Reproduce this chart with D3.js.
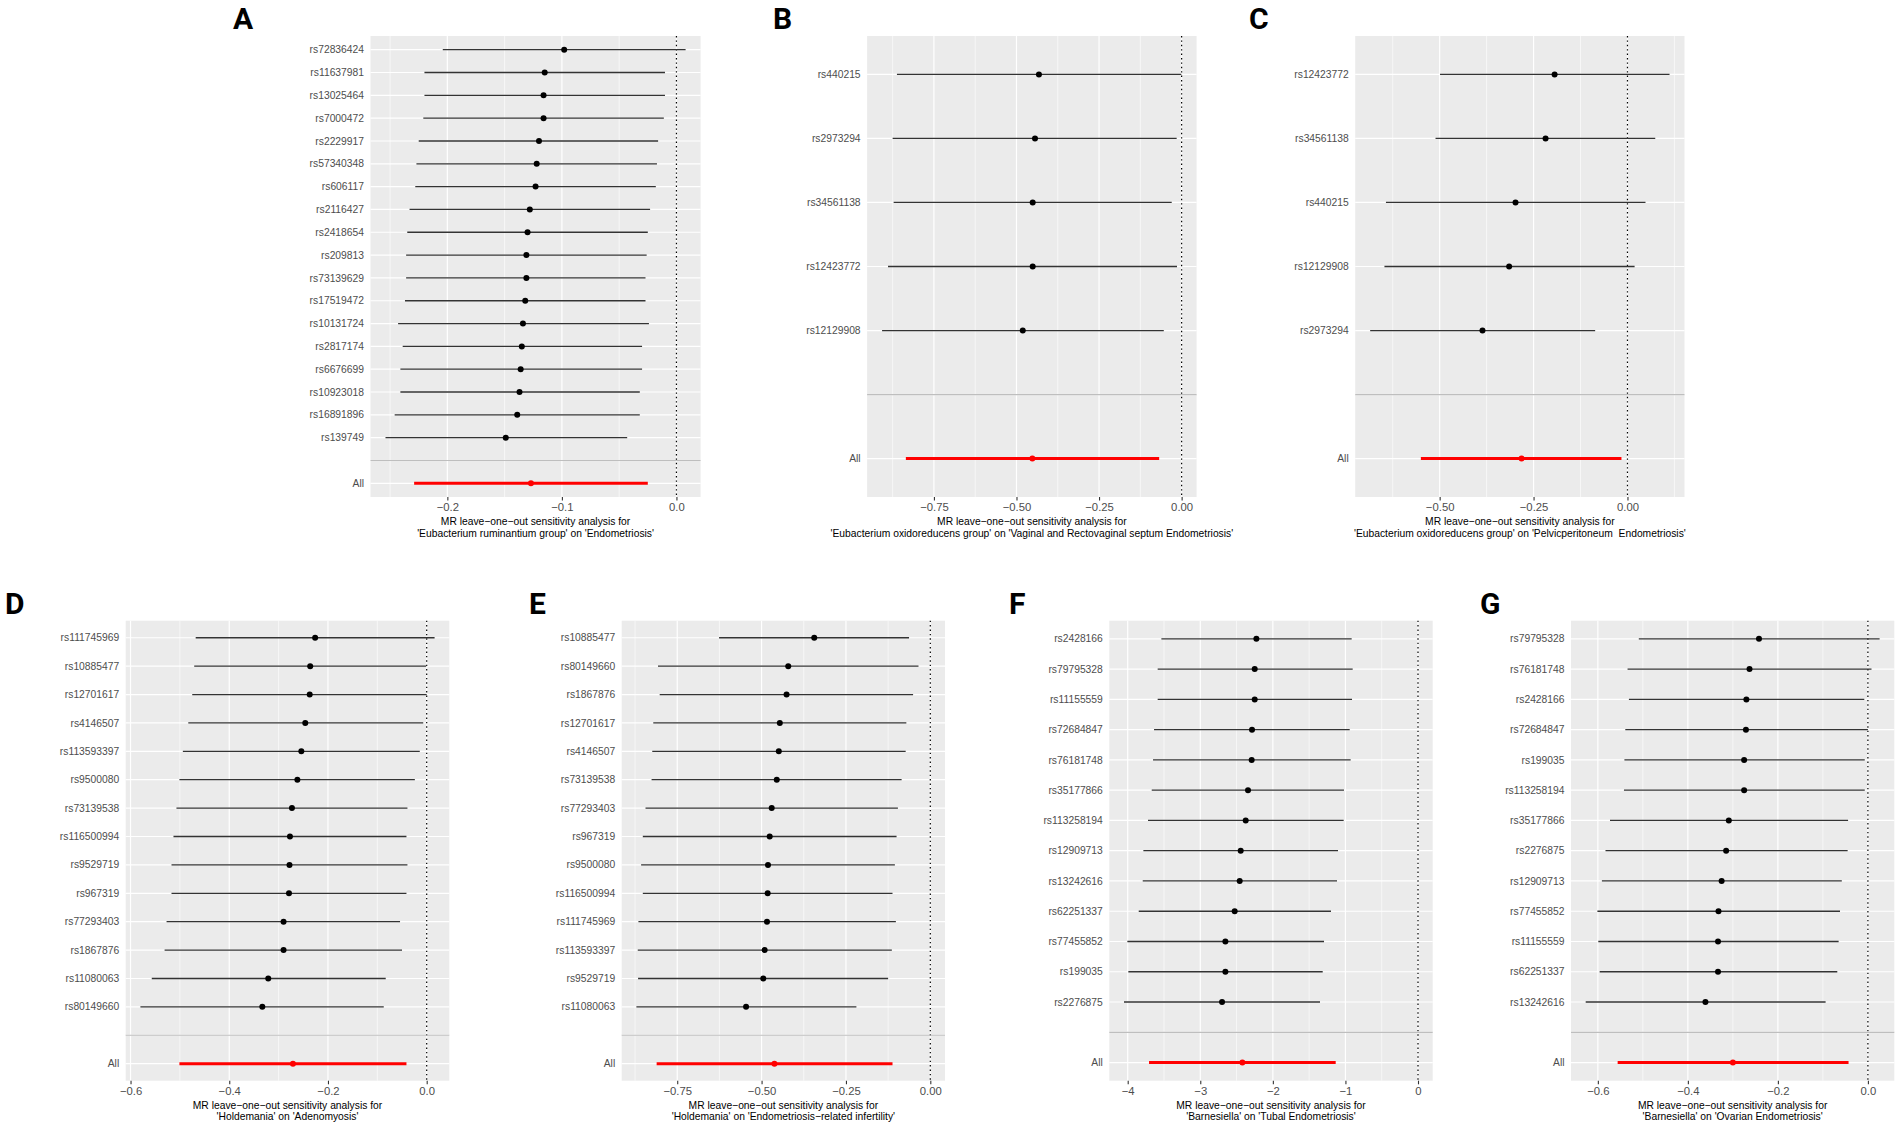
<!DOCTYPE html>
<html>
<head>
<meta charset="utf-8">
<script src="https://cdn.jsdelivr.net/npm/d3@7"></script>
<style>
  body { margin: 0; background: #fff; }
  svg { display: block; }
  text { white-space: pre; }
</style>
</head>
<body>
<svg width="1902" height="1129"></svg>
<script>
// ---- data (leave-one-out estimates, top row to bottom row) ----

// A
const snpsA = ["rs72836424","rs11637981","rs13025464","rs7000472","rs2229917","rs57340348","rs606117","rs2116427","rs2418654","rs209813","rs73139629","rs17519472","rs10131724","rs2817174","rs6676699","rs10923018","rs16891896","rs139749"]
const bA  = [-0.098,-0.115,-0.116,-0.116,-0.120,-0.122,-0.123,-0.128,-0.130,-0.131,-0.131,-0.132,-0.134,-0.135,-0.136,-0.137,-0.139,-0.149]
const loA = [-0.204,-0.220,-0.220,-0.221,-0.225,-0.227,-0.228,-0.233,-0.235,-0.236,-0.236,-0.237,-0.243,-0.239,-0.241,-0.241,-0.246,-0.254]
const upA = [0.008,-0.010,-0.010,-0.011,-0.016,-0.017,-0.018,-0.023,-0.025,-0.026,-0.027,-0.027,-0.024,-0.030,-0.030,-0.032,-0.032,-0.043]
const allA = [-0.127, -0.229, -0.025]
const ticksA = [-0.2, -0.1, 0]
const titleA = ["MR leave\u2212one\u2212out sensitivity analysis for", "'Eubacterium ruminantium group' on 'Endometriosis'"]

// B
const snpsB = ["rs440215","rs2973294","rs34561138","rs12423772","rs12129908"]
const bB  = [-0.432,-0.444,-0.451,-0.451,-0.481]
const loB = [-0.862,-0.875,-0.872,-0.889,-0.907]
const upB = [-0.001,-0.015,-0.030,-0.014,-0.054]
const allB = [-0.452, -0.835, -0.068]
const ticksB = [-0.75, -0.5, -0.25, 0]
const titleB = ["MR leave\u2212one\u2212out sensitivity analysis for", "'Eubacterium oxidoreducens group' on 'Vaginal and Rectovaginal septum Endometriosis'"]

// C
const snpsC = ["rs12423772","rs34561138","rs440215","rs12129908","rs2973294"]
const bC  = [-0.194,-0.218,-0.298,-0.315,-0.386]
const loC = [-0.499,-0.511,-0.643,-0.647,-0.685]
const upC = [0.112,0.074,0.048,0.019,-0.086]
const allC = [-0.282, -0.550, -0.016]
const ticksC = [-0.5, -0.25, 0]
const titleC = ["MR leave\u2212one\u2212out sensitivity analysis for", "'Eubacterium oxidoreducens group' on 'Pelvicperitoneum  Endometriosis'"]

// D
const snpsD = ["rs111745969","rs10885477","rs12701617","rs4146507","rs113593397","rs9500080","rs73139538","rs116500994","rs9529719","rs967319","rs77293403","rs1867876","rs11080063","rs80149660"]
const bD  = [-0.226,-0.236,-0.237,-0.246,-0.254,-0.262,-0.273,-0.277,-0.278,-0.279,-0.290,-0.290,-0.321,-0.333]
const loD = [-0.468,-0.471,-0.475,-0.483,-0.494,-0.501,-0.507,-0.513,-0.517,-0.517,-0.527,-0.531,-0.557,-0.580]
const upD = [0.016,-0.001,0.000,-0.007,-0.014,-0.024,-0.039,-0.041,-0.039,-0.041,-0.054,-0.050,-0.083,-0.087]
const allD = [-0.271, -0.501, -0.041]
const ticksD = [-0.6, -0.4, -0.2, 0]
const titleD = ["MR leave\u2212one\u2212out sensitivity analysis for", "'Holdemania' on 'Adenomyosis'"]

// E
const snpsE = ["rs10885477","rs80149660","rs1867876","rs12701617","rs4146507","rs73139538","rs77293403","rs967319","rs9500080","rs116500994","rs111745969","rs113593397","rs9529719","rs11080063"]
const bE  = [-0.344,-0.421,-0.426,-0.446,-0.449,-0.455,-0.470,-0.476,-0.481,-0.482,-0.484,-0.491,-0.495,-0.546]
const loE = [-0.626,-0.807,-0.802,-0.821,-0.824,-0.826,-0.844,-0.852,-0.857,-0.852,-0.865,-0.867,-0.866,-0.871]
const upE = [-0.063,-0.035,-0.051,-0.071,-0.073,-0.085,-0.096,-0.100,-0.105,-0.112,-0.102,-0.114,-0.125,-0.219]
const allE = [-0.462, -0.811, -0.112]
const ticksE = [-0.75, -0.5, -0.25, 0]
const titleE = ["MR leave\u2212one\u2212out sensitivity analysis for", "'Holdemania' on 'Endometriosis\u2212related infertility'"]

// F
const snpsF = ["rs2428166","rs79795328","rs11155559","rs72684847","rs76181748","rs35177866","rs113258194","rs12909713","rs13242616","rs62251337","rs77455852","rs199035","rs2276875"]
const bF  = [-2.227,-2.250,-2.250,-2.287,-2.292,-2.342,-2.374,-2.443,-2.457,-2.526,-2.654,-2.654,-2.700]
const loF = [-3.536,-3.587,-3.587,-3.637,-3.651,-3.669,-3.720,-3.784,-3.793,-3.848,-4.005,-3.991,-4.051]
const upF = [-0.914,-0.900,-0.909,-0.941,-0.928,-1.020,-1.024,-1.102,-1.116,-1.199,-1.295,-1.313,-1.350]
const allF = [-2.420, -3.706, -1.134]
const ticksF = [-4, -3, -2, -1, 0]
const titleF = ["MR leave\u2212one\u2212out sensitivity analysis for", "'Barnesiella' on 'Tubal Endometriosis'"]

// G
const snpsG = ["rs79795328","rs76181748","rs2428166","rs72684847","rs199035","rs113258194","rs35177866","rs2276875","rs12909713","rs77455852","rs11155559","rs62251337","rs13242616"]
const bG  = [-0.242,-0.263,-0.270,-0.271,-0.275,-0.275,-0.309,-0.315,-0.325,-0.332,-0.333,-0.333,-0.361]
const loG = [-0.509,-0.534,-0.531,-0.539,-0.541,-0.542,-0.573,-0.583,-0.591,-0.601,-0.599,-0.596,-0.627]
const upG = [0.026,0.008,-0.008,0.000,-0.007,-0.007,-0.044,-0.045,-0.058,-0.062,-0.065,-0.068,-0.094]
const allG = [-0.300, -0.556, -0.043]
const ticksG = [-0.6, -0.4, -0.2, 0]
const titleG = ["MR leave\u2212one\u2212out sensitivity analysis for", "'Barnesiella' on 'Ovarian Endometriosis'"]

// ---- layout (pixel boxes of each panel and its letter) ----
const boxes = {
  A: { x0: 370.5, x1: 700.6, y0: 36, y1: 497, lx: 233, ly: 29 },
  B: { x0: 867.1, x1: 1196.6, y0: 36, y1: 497, lx: 773, ly: 29 },
  C: { x0: 1355.2, x1: 1684.5, y0: 36, y1: 497, lx: 1249, ly: 29 },
  D: { x0: 125.7, x1: 449.3, y0: 620.7, y1: 1080.7, lx: 5, ly: 614 },
  E: { x0: 621.7, x1: 945, y0: 620.7, y1: 1080.7, lx: 529, ly: 614 },
  F: { x0: 1109.3, x1: 1432.7, y0: 620.7, y1: 1080.7, lx: 1009, ly: 614 },
  G: { x0: 1571, x1: 1894.3, y0: 620.7, y1: 1080.7, lx: 1480, ly: 614 }
}

const panels = [
  { key: "A", snps: snpsA, b: bA, lo: loA, up: upA, all: allA, ticks: ticksA, fmt: ".1f", title: titleA },
  { key: "B", snps: snpsB, b: bB, lo: loB, up: upB, all: allB, ticks: ticksB, fmt: ".2f", title: titleB },
  { key: "C", snps: snpsC, b: bC, lo: loC, up: upC, all: allC, ticks: ticksC, fmt: ".2f", title: titleC },
  { key: "D", snps: snpsD, b: bD, lo: loD, up: upD, all: allD, ticks: ticksD, fmt: ".1f", title: titleD },
  { key: "E", snps: snpsE, b: bE, lo: loE, up: upE, all: allE, ticks: ticksE, fmt: ".2f", title: titleE },
  { key: "F", snps: snpsF, b: bF, lo: loF, up: upF, all: allF, ticks: ticksF, fmt: "d", title: titleF },
  { key: "G", snps: snpsG, b: bG, lo: loG, up: upG, all: allG, ticks: ticksG, fmt: ".1f", title: titleG }
]

const svg = d3.select("svg")
const FONT = "'Liberation Sans', Arial, sans-serif"

const render = p => {
  const box = boxes[p.key]
  const w = box.x1 - box.x0
  const h = box.y1 - box.y0

  const rows = p.snps.map((s, i) => ({ snp: s, b: p.b[i], lo: p.lo[i], up: p.up[i], tot: false }))
  rows.push({ snp: "All", b: p.all[0], lo: p.all[1], up: p.all[2], tot: true })

  // ggplot-like continuous limits: data + 0 line, expanded 5%
  const lo = d3.min([0, ...p.lo, p.all[1]])
  const hi = d3.max([0, ...p.up, p.all[2]])
  const pad = (hi - lo) * 0.05

  const x = d3.scaleLinear().domain([lo - pad, hi + pad]).range([0, w])
  const y = d3.scalePoint().domain([...p.snps, "", "All"]).range([0, h]).padding(0.6)

  const g = svg.append("g").attr("transform", "translate(" + box.x0 + "," + box.y0 + ")")

  g.append("rect").attr("width", w).attr("height", h).attr("fill", "#EBEBEB")

  // minor grid
  const step = p.ticks[1] - p.ticks[0]
  const minor = []
  for (let v = p.ticks[0] - step / 2; v <= hi + pad + 1e-9; v += step) {
    if (v >= lo - pad) minor.push(v)
  }
  g.selectAll(".minor").data(minor).join("line")
    .attr("x1", d => x(d)).attr("x2", d => x(d))
    .attr("y1", 0).attr("y2", h)
    .attr("stroke", "#fff").attr("stroke-width", 0.6)

  g.selectAll(".vmajor").data(p.ticks).join("line")
    .attr("x1", d => x(d)).attr("x2", d => x(d))
    .attr("y1", 0).attr("y2", h)
    .attr("stroke", "#fff").attr("stroke-width", 1.2)

  g.selectAll(".hmajor").data(y.domain()).join("line")
    .attr("x1", 0).attr("x2", w)
    .attr("y1", d => y(d)).attr("y2", d => y(d))
    .attr("stroke", "#fff").attr("stroke-width", 1.2)

  // zero line
  g.append("line")
    .attr("x1", x(0)).attr("x2", x(0)).attr("y1", 0).attr("y2", h)
    .attr("stroke", "#000").attr("stroke-width", 1.2)
    .attr("stroke-dasharray", "1.4,3")

  // intervals
  g.selectAll(".ci").data(rows).join("line")
    .attr("x1", d => x(d.lo)).attr("x2", d => x(d.up))
    .attr("y1", d => y(d.snp)).attr("y2", d => y(d.snp))
    .attr("stroke", d => d.tot ? "red" : "#333")
    .attr("stroke-width", d => d.tot ? 3 : 1.3)

  g.selectAll(".pt").data(rows).join("circle")
    .attr("cx", d => x(d.b)).attr("cy", d => y(d.snp))
    .attr("r", 3)
    .attr("fill", d => d.tot ? "red" : "#000")

  // separator
  g.append("line")
    .attr("x1", 0).attr("x2", w).attr("y1", y("")).attr("y2", y(""))
    .attr("stroke", "#BEBEBE").attr("stroke-width", 1.2)

  // x axis
  const fmt = d3.format(p.fmt)
  const xAxis = g.append("g")
    .attr("transform", "translate(0," + h + ")")
    .call(d3.axisBottom(x).tickValues(p.ticks).tickFormat(fmt).tickSize(3.6).tickPadding(2.5))
  xAxis.select(".domain").remove()
  xAxis.selectAll("line").attr("stroke", "#333").attr("stroke-width", 1.1)
  xAxis.selectAll("text").attr("fill", "#4D4D4D").attr("font-family", FONT).attr("font-size", 11.3)

  // y axis labels (no ticks)
  g.selectAll(".ylab").data(y.domain()).join("text")
    .attr("x", -6.5).attr("y", d => y(d)).attr("dy", "0.35em")
    .attr("text-anchor", "end")
    .attr("font-family", FONT).attr("font-size", 10.3).attr("fill", "#4D4D4D")
    .text(d => d)

  // x title
  g.selectAll(".xtitle").data(p.title).join("text")
    .attr("x", w / 2).attr("y", (d, i) => h + 28.3 + i * 11.3)
    .attr("text-anchor", "middle")
    .attr("font-family", FONT).attr("font-size", 10.3).attr("fill", "#000")
    .text(d => d)

  // panel letter
  svg.append("text")
    .attr("x", box.lx).attr("y", box.ly)
    .attr("font-family", "Roboto, 'Noto Sans', sans-serif")
    .attr("font-weight", "bold").attr("font-size", 30)
    .text(p.key)
}

panels.forEach(render)
</script>
</body>
</html>
